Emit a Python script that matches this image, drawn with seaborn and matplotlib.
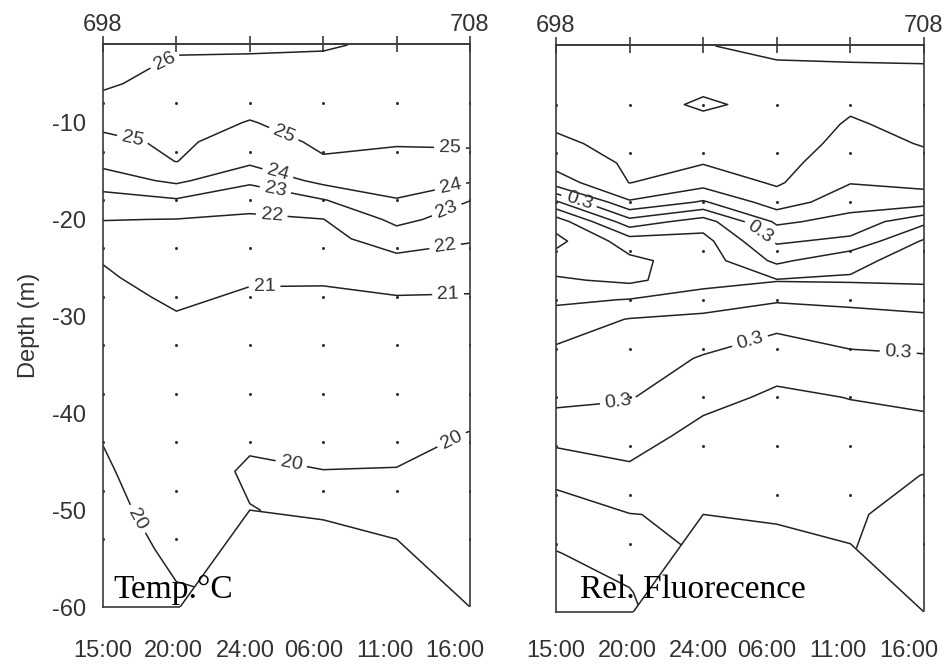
import numpy as np
import pandas as pd
import matplotlib
matplotlib.use('Agg')
import matplotlib.pyplot as plt
import seaborn as sns


# stations along the section (top axis) and depth rows of the gridded profiles
stations = [698, 700, 702, 704, 706, 708]
depths = [-2, -4, -6, -8, -10, -12, -14, -16, -18, -20, -22, -24, -26, -28,
          -30, -34, -38, -42, -46, -50, -54, -58, -60]

# time of day under the stations (bottom axis)
time_pos = [698, 699.93, 701.87, 703.73, 705.67, 707.58]
time_labels = ['15:00', '20:00', '24:00', '06:00', '11:00', '16:00']

# sampling points (dots)
sample_depths = [-8, -13, -18, -23, -28, -33, -38, -43, -48, -53]

# sea floor outline
bottom_x = [700.1, 702, 704, 706, 708]
bottom_depth = [-60, -50, -51, -53, -60]

# temperature profiles (deg C), one list per station, top to bottom
temp_698 = [26.40, 26.25, 26.10, 25.81, 25.25, 24.75, 24.30, 23.50, 22.62, 22.03, 21.54, 21.05,
            20.90, 20.79, 20.69, 20.47, 20.25, 20.04, 19.92, 19.83, 19.74, 19.65, 19.60]
temp_700 = [26.10, 25.91, 25.73, 25.55, 25.36, 25.18, 25.02, 24.20, 22.91, 21.98, 21.78, 21.56,
            21.33, 21.11, 20.96, 20.82, 20.68, 20.54, 20.39, 20.25, 20.11, 19.98, 19.95]
temp_702 = [26.10, 25.88, 25.58, 25.27, 24.96, 24.58, 24.21, 23.18, 22.33, 21.86, 21.59, 21.33,
            21.07, 20.92, 20.81, 20.59, 20.37, 20.15, 19.90, 20.02, 20.05, 20.05, 20.05]
temp_704 = [26.05, 25.89, 25.71, 25.52, 25.34, 25.16, 24.91, 24.28, 22.95, 21.98, 21.69, 21.38,
            21.06, 20.92, 20.82, 20.62, 20.42, 20.22, 19.99, 19.88, 19.84, 19.81, 19.80]
temp_706 = [25.90, 25.73, 25.57, 25.40, 25.24, 25.07, 24.78, 24.38, 23.96, 23.25, 22.50, 21.83,
            21.36, 20.97, 20.86, 20.63, 20.40, 20.17, 19.98, 19.88, 19.79, 19.77, 19.75]
temp_708 = [25.80, 25.66, 25.52, 25.38, 25.24, 25.10, 24.79, 24.10, 23.02, 22.55, 22.09, 21.67,
            21.25, 20.95, 20.81, 20.54, 20.27, 19.99, 19.91, 19.82, 19.73, 19.64, 19.60]
temp_levels = [20, 21, 22, 23, 24, 25, 26]

# relative fluorescence profiles
fluo_698 = [0.100, 0.111, 0.122, 0.133, 0.143, 0.159, 0.183, 0.225, 0.358, 0.479, 0.514, 0.478,
            0.443, 0.410, 0.376, 0.336, 0.313, 0.265, 0.213, 0.177, 0.148, 0.136, 0.130]
fluo_700 = [0.100, 0.107, 0.114, 0.121, 0.128, 0.135, 0.143, 0.149, 0.206, 0.320, 0.425, 0.461,
            0.460, 0.398, 0.348, 0.326, 0.303, 0.272, 0.238, 0.199, 0.171, 0.147, 0.140]
fluo_702 = [0.148, 0.140, 0.135, 0.160, 0.130, 0.139, 0.148, 0.179, 0.256, 0.375, 0.418, 0.427,
            0.420, 0.375, 0.339, 0.296, 0.265, 0.233, 0.210, 0.205, 0.205, 0.205, 0.205]
fluo_704 = [0.160, 0.146, 0.138, 0.130, 0.125, 0.120, 0.132, 0.144, 0.174, 0.241, 0.293, 0.339,
            0.403, 0.356, 0.317, 0.270, 0.242, 0.225, 0.212, 0.205, 0.205, 0.205, 0.205]
fluo_706 = [0.170, 0.146, 0.135, 0.144, 0.154, 0.168, 0.183, 0.198, 0.230, 0.267, 0.312, 0.388,
            0.405, 0.361, 0.333, 0.290, 0.251, 0.234, 0.217, 0.203, 0.201, 0.201, 0.201]
fluo_708 = [0.160, 0.149, 0.139, 0.130, 0.139, 0.147, 0.164, 0.186, 0.227, 0.338, 0.406, 0.420,
            0.407, 0.374, 0.338, 0.295, 0.262, 0.229, 0.199, 0.191, 0.183, 0.174, 0.170]
fluo_levels = [0.15, 0.2, 0.25, 0.3, 0.35, 0.4, 0.45, 0.5]


sns.set_theme(style='white')
plt.rcParams['font.family'] = ['Liberation Sans', 'DejaVu Sans']
plt.rcParams['axes.unicode_minus'] = False

ink = '#222222'
frame = '#3a3a3a'

temp = np.column_stack([temp_698, temp_700, temp_702, temp_704, temp_706, temp_708])
fluo = np.column_stack([fluo_698, fluo_700, fluo_702, fluo_704, fluo_706, fluo_708])

dots = pd.DataFrame([(s, d) for s in stations for d in sample_depths], columns=['station', 'depth'])
dots = dots[dots['depth'] > np.interp(dots['station'], bottom_x, bottom_depth, left=-60) + 2]


def draw_section(ax, field, levels, label_levels, fmt, spots, name, name_x, name_y, xpad):
    plain = [lv for lv in levels if lv not in label_levels]
    if plain:
        ax.contour(stations, depths, field, levels=plain, colors=ink,
                   linewidths=1.1, zorder=2)
    cs = ax.contour(stations, depths, field, levels=label_levels, colors=ink,
                    linewidths=1.1, zorder=2)
    ax.clabel(cs, fmt=fmt, manual=spots, inline=True,
              fontsize=14, colors='#333333')

    sns.scatterplot(data=dots, x='station', y='depth', color=ink, s=4,
                    edgecolor=None, legend=False, ax=ax, zorder=2)

    # blank out below the sea floor
    ax.fill_between(bottom_x, bottom_depth, -60, color='white', zorder=3)
    sns.lineplot(x=bottom_x, y=bottom_depth, sort=False, color=ink, lw=1.1,
                 ax=ax, zorder=4)

    ax.set_xlim(698, 708)
    ax.set_ylim(-60, -1.9)
    ax.set_xlabel('')
    ax.set_ylabel('')
    ax.set_xticks(time_pos, labels=time_labels)
    ax.tick_params(axis='x', direction='out', length=10.5, width=1.2, pad=xpad,
                   labelsize=17, colors=frame, labelcolor='#333333')
    for sp in ax.spines.values():
        sp.set_color(frame)
        sp.set_linewidth(1.2)

    top = ax.secondary_xaxis('top')
    top.set_xticks(stations, labels=['698', '', '', '', '', '708'])
    top.tick_params(direction='inout', length=11.5, width=1.2, pad=0,
                    labelsize=17, colors=frame, labelcolor='#333333')
    top.spines['top'].set_color(frame)
    top.spines['top'].set_linewidth(1.2)

    ax.text(name_x, name_y, name, transform=ax.transAxes, va='baseline',
            fontsize=24, family=['Liberation Serif', 'DejaVu Serif'], color='black', zorder=5)


fig = plt.figure(figsize=(9.51, 6.64), dpi=100)
ax1 = fig.add_axes([0.1083, 0.0858, 0.3859, 0.8479])
ax2 = fig.add_axes([0.5846, 0.0783, 0.3870, 0.8539])

temp_spots = [(699.6, -3.0), (698.8, -11.8), (702.9, -11.4), (707.45, -13.4),
              (702.75, -15.4), (707.45, -16.3), (702.7, -16.9), (707.3, -18.4),
              (702.6, -19.4), (707.3, -22.2), (702.4, -26.4), (707.4, -27.3),
              (698.9, -51.0), (703.1, -45.8), (707.4, -42.0)]
draw_section(ax1, temp, temp_levels, temp_levels, '%d', temp_spots,
             'Temp.°C', 0.027, 0.016, 13.5)

fluo_spots = [(698.6, -18.2), (703.4, -21.9), (703.3, -32.6), (707.3, -33.4),
              (699.7, -38.6)]
draw_section(ax2, fluo, fluo_levels, [0.3], '%.1f', fluo_spots,
             'Rel. Fluorecence', 0.065, 0.025, 9.5)

ax1.set_yticks([-10, -20, -30, -40, -50, -60])
ax1.tick_params(axis='y', direction='out', length=9.5, width=1.2, pad=3,
                labelsize=17, colors=frame, labelcolor='#333333')
ax1.set_ylabel('Depth (m)', fontsize=17, color='#333333', labelpad=8)

ax2.set_yticks([-10, -20, -30, -40, -50, -60])
ax2.tick_params(axis='y', left=False, labelleft=False)

fig.savefig('out.png', dpi=100)
